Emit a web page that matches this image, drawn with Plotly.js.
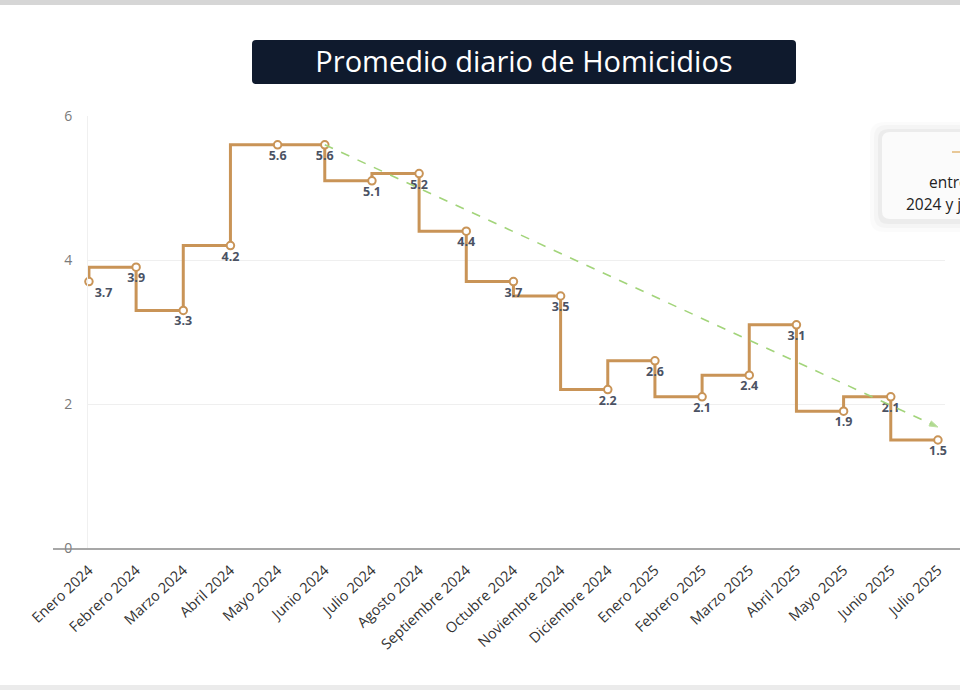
<!DOCTYPE html>
<html>
<head>
<meta charset="utf-8">
<script src="https://cdn.plot.ly/plotly-3.0.1.min.js"></script>
<style>html,body{margin:0;padding:0;background:#fff;}#chart{width:960px;height:690px;}</style>
</head>
<body>
<div id="chart"></div>
<script>
// Data
var months = ["Enero 2024","Febrero 2024","Marzo 2024","Abril 2024","Mayo 2024","Junio 2024","Julio 2024","Agosto 2024","Septiembre 2024","Octubre 2024","Noviembre 2024","Diciembre 2024","Enero 2025","Febrero 2025","Marzo 2025","Abril 2025","Mayo 2025","Junio 2025","Julio 2025"];
var promedio = [3.7,3.9,3.3,4.2,5.6,5.6,5.1,5.2,4.4,3.7,3.5,2.2,2.6,2.1,2.4,3.1,1.9,2.1,1.5];
var trendX = ["Junio 2024","Julio 2025"];
var trendY = [5.6,1.68];
var yTicks = [0,2,4,6];
var titleText = "Promedio diario de Homicidios";
var legendLine1 = "entre junio";
var legendLine2 = "2024 y julio 2025";

// pixel -> paper helpers (plot area: x 88..945, y 116..548)
var L = 88, R = 945, T = 116, B = 548;
function px(p){ return (p - L) / (R - L); }
function py(p){ return (B - p) / (B - T); }
function roundRect(x0,y0,x1,y1,r){
  var rx = r/(R-L), ry = r/(B-T);
  var a=px(x0), b=px(x1), c=py(y0), d=py(y1);
  return 'M'+(a+rx)+','+c+' L'+(b-rx)+','+c+' Q'+b+','+c+' '+b+','+(c-ry)+
         ' L'+b+','+(d+ry)+' Q'+b+','+d+' '+(b-rx)+','+d+
         ' L'+(a+rx)+','+d+' Q'+a+','+d+' '+a+','+(d+ry)+
         ' L'+a+','+(c-ry)+' Q'+a+','+c+' '+(a+rx)+','+c+' Z';
}

var textPos = promedio.map(function(v,i){ return i===0 ? 'bottom right' : 'bottom center'; });

var steps = {
  x: months, y: promedio, type: 'scatter', mode: 'lines+markers+text',
  line: {shape: 'vh', color: '#c99457', width: 3},
  marker: {symbol: 'circle', size: 7.5, color: '#ffffff', line: {width: 2, color: '#c99457'}},
  text: promedio.map(function(v){ return v.toFixed(1); }),
  textposition: textPos,
  textfont: {family: 'Open Sans, sans-serif', size: 12.5, color: '#4b5263', weight: 700},
  cliponaxis: false,
  hoverinfo: 'x+y', showlegend: false
};

var trend = {
  x: trendX, y: trendY, type: 'scatter', mode: 'lines+markers',
  line: {color: '#a2d47a', width: 1.6, dash: 'dash'},
  marker: {symbol: 'arrow', angleref: 'previous', size: [0, 9], color: '#8fcb63'},
  hoverinfo: 'skip', showlegend: false
};

var shapes = [
  {type:'rect', xref:'paper', yref:'paper', x0:px(0), x1:px(960), y0:py(0), y1:py(5), fillcolor:'#d6d6d6', line:{width:0}, layer:'below'},
  {type:'rect', xref:'paper', yref:'paper', x0:px(0), x1:px(960), y0:py(685), y1:py(690), fillcolor:'#ebebeb', line:{width:0}, layer:'below'},
  {type:'path', xref:'paper', yref:'paper', path: roundRect(252,40,796,84,4), fillcolor:'#0f1a2d', line:{width:0}, layer:'above'},
  {type:'line', xref:'paper', yref:'paper', x0:px(53), x1:px(960), y0:py(549), y1:py(549), line:{color:'#8a8a8a', width:1.5}},
  {type:'path', xref:'paper', yref:'paper', path: roundRect(870,122,980,232,14), fillcolor:'rgba(0,0,0,0.015)', line:{width:0}, layer:'above'},
  {type:'path', xref:'paper', yref:'paper', path: roundRect(874,125,980,228,12), fillcolor:'rgba(0,0,0,0.025)', line:{width:0}, layer:'above'},
  {type:'path', xref:'paper', yref:'paper', path: roundRect(878,129,980,224,10), fillcolor:'rgba(0,0,0,0.035)', line:{width:0}, layer:'above'},
  {type:'path', xref:'paper', yref:'paper', path: roundRect(882,132,980,219,8), fillcolor:'#fbfbfb', line:{width:0}, layer:'above'},
  {type:'line', xref:'paper', yref:'paper', x0:px(952), x1:px(990), y0:py(152), y1:py(152), line:{color:'#e2b878', width:1.5, dash:'dash'}, layer:'above'}
];

var annotations = [
  {xref:'paper', yref:'paper', x:px(927), y:py(182), xanchor:'left', yanchor:'middle', showarrow:false, text: legendLine1, font:{family:'Open Sans, sans-serif', size:15.5, color:'#222'}},
  {xref:'paper', yref:'paper', x:px(904), y:py(204), xanchor:'left', yanchor:'middle', showarrow:false, text: legendLine2, font:{family:'Open Sans, sans-serif', size:15.5, color:'#222'}}
];

var layout = {
  width: 960, height: 690,
  margin: {l: L, r: 960 - R, t: T, b: 690 - B, pad: 0},
  paper_bgcolor: '#ffffff', plot_bgcolor: '#ffffff',
  title: {text: titleText, xref: 'container', yref: 'container', x: 524/960, y: 1 - 62/690, xanchor: 'center', yanchor: 'middle',
          font: {family: 'Open Sans, sans-serif', size: 29, color: '#ffffff', weight: 500}},
  xaxis: {type: 'category', categoryorder: 'array', categoryarray: months, range: [-0.02, 18.15], showgrid: false, zeroline: false, showline: false,
          tickangle: -43, tickfont: {family: 'Open Sans, sans-serif', size: 14.5, color: '#333333'},
          ticks: '', ticklabelstandoff: 10, fixedrange: true},
  yaxis: {range: [0, 6], tickvals: yTicks, ticktext: yTicks.map(String), showgrid: true, gridcolor: '#efefef', gridwidth: 1,
          zeroline: false, showline: true, linecolor: '#f0f0f0', linewidth: 1,
          tickfont: {family: 'Open Sans, sans-serif', size: 14, color: '#7a7a7a'}, ticks: '', ticklabelstandoff: 12, fixedrange: true},
  shapes: shapes,
  annotations: annotations,
  showlegend: false
};

Plotly.newPlot('chart', [steps, trend], layout, {displayModeBar: false, staticPlot: true});
</script>
</body>
</html>
